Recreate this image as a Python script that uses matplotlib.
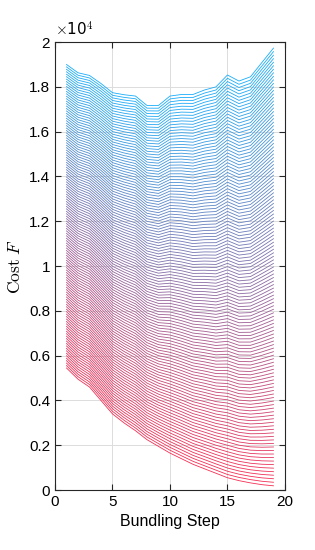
import matplotlib
matplotlib.use('Agg')
import matplotlib.pyplot as plt
import numpy as np

# bundling steps
steps = list(range(1, 20))
# lowest curve (red) and highest curve (blue)
cost_low = [5450, 4950, 4600, 4000, 3400, 3000, 2650, 2250, 1950, 1650,
            1400, 1150, 950, 750, 550, 420, 320, 240, 190]
cost_high = [19000, 18630, 18510, 18150, 17740, 17650, 17590, 17170, 17170, 17590,
             17660, 17660, 17860, 18000, 18530, 18260, 18450, 19090, 19730]
n_lines = 125
weights = np.linspace(0, 1, n_lines)

xticks = [0, 5, 10, 15, 20]
yticks = [0, 2000, 4000, 6000, 8000, 10000, 12000, 14000, 16000, 18000, 20000]
ytick_labels = ['0', '0.2', '0.4', '0.6', '0.8', '1', '1.2', '1.4', '1.6', '1.8', '2']

plt.rcParams['font.family'] = ['Liberation Sans', 'DejaVu Sans']
plt.rcParams['mathtext.fontset'] = 'cm'

fig = plt.figure(figsize=(3.15, 5.5), dpi=100)
ax = fig.add_axes([0.1746, 0.109, 0.730, 0.8145])

low = np.array(cost_low, dtype=float)
high = np.array(cost_high, dtype=float)
red = np.array([0.96, 0.18, 0.33])
blue = np.array([0.10, 0.68, 0.98])
for w in weights:
    c = red * (1 - w) + blue * w
    ax.plot(steps, low + w * (high - low), color=c, lw=0.6, zorder=3)

ax.set_xlim(0, 20)
ax.set_ylim(0, 20000)
ax.set_xticks(xticks)
ax.set_yticks(yticks)
ax.set_yticklabels(ytick_labels)
ax.tick_params(direction='in', length=4, width=0.8, labelsize=11,
               top=True, right=True, colors='#262626', labelcolor='black')
ax.grid(True, color='#dcdcdc', lw=0.7, zorder=0)
for s in ax.spines.values():
    s.set_color('#262626')
    s.set_linewidth(0.8)

ax.text(0, 1.008, r'$\times$10$^4$', transform=ax.transAxes, fontsize=11,
        ha='left', va='bottom', family=['DejaVu Sans'])
ax.set_xlabel('Bundling Step', fontsize=11.5)
ax.set_ylabel(r'$\mathrm{Cost}\ F$', fontsize=12.5)

fig.savefig('out.png', dpi=100)
